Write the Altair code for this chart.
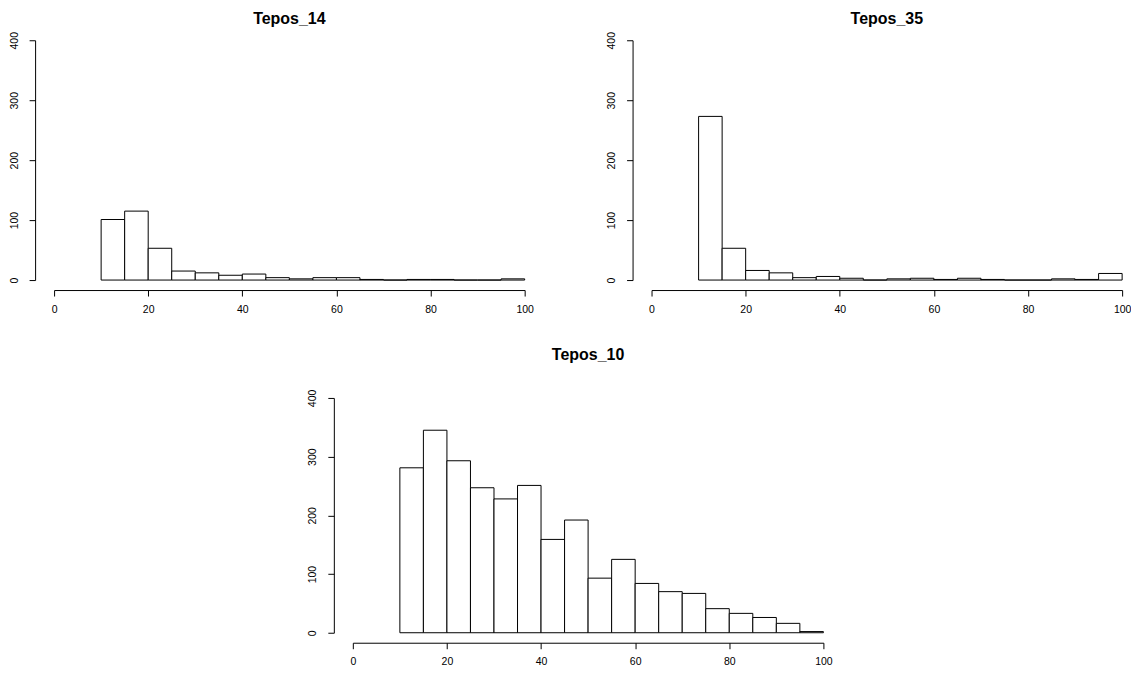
import altair as alt
import pandas as pd

bin_start = [10, 15, 20, 25, 30, 35, 40, 45, 50, 55, 60, 65, 70, 75, 80, 85, 90, 95]
bin_width = 5

tepos_14 = [101, 115, 53, 15, 12, 8, 10, 4, 2, 4, 4, 1, 0, 1, 1, 0, 0, 2]
tepos_35 = [273, 53, 16, 12, 4, 6, 3, 0, 2, 3, 1, 3, 1, 0, 0, 2, 1, 11]
tepos_10 = [281, 345, 293, 247, 228, 251, 159, 192, 93, 125, 84, 70, 67, 41, 33, 26, 16, 2]

x_ticks = [0, 20, 40, 60, 80, 100]
y_ticks = [0, 100, 200, 300, 400]

FONT = "Liberation Sans"


def make_df(counts):
    return pd.DataFrame({
        "start": bin_start,
        "end": [b + bin_width for b in bin_start],
        "count": counts,
        "base": [0] * len(bin_start),
    })


def panel(counts, title, w, h, title_offset):
    return alt.Chart(make_df(counts)).mark_bar(
        fill="white", stroke="black", strokeWidth=1
    ).encode(
        x=alt.X("start:Q",
                scale=alt.Scale(domain=[0, 100], nice=False, zero=False),
                axis=alt.Axis(values=x_ticks, title=None, offset=10, grid=False,
                              tickSize=6, labelPadding=8, labelFontSize=10.5,
                              labelFlush=False, labelOverlap=False,
                              domainColor="black", tickColor="black",
                              labelColor="black", labelFont=FONT, format="d")),
        x2="end:Q",
        y=alt.Y("count:Q",
                scale=alt.Scale(domain=[0, 400], nice=False),
                axis=alt.Axis(values=y_ticks, title=None, offset=19, grid=False,
                              tickSize=6, labelPadding=10, labelFontSize=10.5,
                              labelAngle=270, labelAlign="center", labelBaseline="bottom",
                              labelFlush=False, labelOverlap=False,
                              domainColor="black", tickColor="black",
                              labelColor="black", labelFont=FONT, format="d")),
        y2="base:Q",
    ).properties(
        width=w, height=h,
        title=alt.TitleParams(title, font=FONT, fontSize=16, fontWeight="bold",
                              color="black", anchor="middle", offset=title_offset),
    )


p1 = panel(tepos_14, "Tepos_14", 471, 240, 5)
p2 = panel(tepos_35, "Tepos_35", 471, 240, 5)
p3 = panel(tepos_10, "Tepos_10", 471, 235, 26)

row1 = alt.hconcat(p1, p2, spacing=73)
chart = alt.vconcat(row1, p3, spacing=32, center=True).properties(
    padding={"left": 1, "top": 2, "right": 0, "bottom": 0},
    background="white",
).configure_view(stroke=None)

chart.save("out.html", embed_options={"renderer": "svg", "actions": False})
